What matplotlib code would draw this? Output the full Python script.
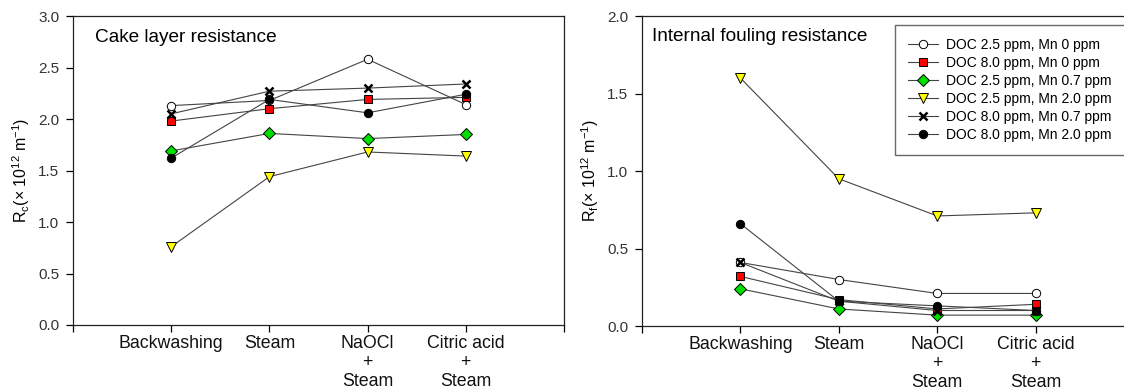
import matplotlib
matplotlib.use("Agg")
import matplotlib.pyplot as plt

plt.rcParams['font.family'] = ['Liberation Sans', 'DejaVu Sans']
plt.rcParams['mathtext.default'] = 'regular'

# data
categories = ["Backwashing", "Steam", "NaOCl\n+\nSteam", "Citric acid\n+\nSteam"]
series_labels = ["DOC 2.5 ppm, Mn 0 ppm", "DOC 8.0 ppm, Mn 0 ppm",
                 "DOC 2.5 ppm, Mn 0.7 ppm", "DOC 2.5 ppm, Mn 2.0 ppm",
                 "DOC 8.0 ppm, Mn 0.7 ppm", "DOC 8.0 ppm, Mn 2.0 ppm"]

cake_doc25_mn0 = [2.13, 2.18, 2.58, 2.14]
cake_doc80_mn0 = [1.98, 2.10, 2.19, 2.21]
cake_doc25_mn07 = [1.69, 1.86, 1.81, 1.85]
cake_doc25_mn20 = [0.76, 1.44, 1.68, 1.64]
cake_doc80_mn07 = [2.05, 2.27, 2.30, 2.34]
cake_doc80_mn20 = [1.62, 2.19, 2.06, 2.24]

int_doc25_mn0 = [0.41, 0.30, 0.21, 0.21]
int_doc80_mn0 = [0.32, 0.17, 0.11, 0.14]
int_doc25_mn07 = [0.24, 0.11, 0.07, 0.07]
int_doc25_mn20 = [1.60, 0.95, 0.71, 0.73]
int_doc80_mn07 = [0.41, 0.16, 0.10, 0.10]
int_doc80_mn20 = [0.66, 0.16, 0.13, 0.10]

cake = [cake_doc25_mn0, cake_doc80_mn0, cake_doc25_mn07,
        cake_doc25_mn20, cake_doc80_mn07, cake_doc80_mn20]
internal = [int_doc25_mn0, int_doc80_mn0, int_doc25_mn07,
            int_doc25_mn20, int_doc80_mn07, int_doc80_mn20]

# marker styles per series
styles = [
    dict(marker='o', mfc='white', ms=6),
    dict(marker='s', mfc='#ff0000', ms=6),
    dict(marker='D', mfc='#00e000', ms=6),
    dict(marker='v', mfc='#ffff00', ms=7),
    dict(marker='x', mfc='black', ms=6, mew=1.8),
    dict(marker='o', mfc='black', ms=6),
]

W, H = 1124, 390
fig = plt.figure(figsize=(W / 100, H / 100), dpi=100)
ax1 = fig.add_axes([73 / W, (H - 325) / H, 491 / W, 309 / H])
ax2 = fig.add_axes([642 / W, (H - 326) / H, 492 / W, 310 / H])

xpos = [1, 2, 3, 4]


def draw_panel(ax, data, ymax, title, ylabel, tx, ty):
    for vals, st, lab in zip(data, styles, series_labels):
        st = dict(st)
        mew = st.pop('mew', 0.7)
        ax.plot(xpos, vals, color='#444444', lw=0.8, mec='black', mew=mew,
                label=lab, **st)
    ax.set_xlim(0, 5)
    ax.set_ylim(0, ymax)
    ax.set_xticks([0, 1, 2, 3, 4, 5])
    ax.set_xticklabels([''] + categories + [''], fontsize=12.8,
                       linespacing=1.18, color='#111111')
    nt = int(round(ymax / 0.5)) + 1
    ax.set_yticks([i * 0.5 for i in range(nt)])
    ax.set_yticklabels(["%.1f" % (i * 0.5) for i in range(nt)],
                       fontsize=11, color='#333333')
    ax.tick_params(axis='both', direction='out', length=5, width=0.9, pad=2)
    ax.tick_params(axis='y', pad=5)
    for sp in ax.spines.values():
        sp.set_linewidth(0.9)
        sp.set_color('#222222')
    ax.set_ylabel(ylabel, fontsize=11.5)
    ax.yaxis.set_label_coords(-0.084, 0.5)
    ax.text(tx, ty, title, transform=ax.transAxes, fontsize=13.7,
            va='center', ha='left')


draw_panel(ax1, cake, 3.0, "Cake layer resistance",
           r"R$_{c}$(× 10$^{12}$ m$^{-1}$)", 0.045, 0.929)
draw_panel(ax2, internal, 2.0, "Internal fouling resistance",
           r"R$_{f}$(× 10$^{12}$ m$^{-1}$)", 0.02, 0.935)

leg = ax2.legend(loc='upper left', bbox_to_anchor=((895 - 642) / 492, (326 - 25) / 310),
                 fontsize=10, frameon=True, fancybox=False, labelspacing=0.3,
                 handlelength=2.2, handletextpad=0.6, borderpad=0.9,
                 borderaxespad=0)
leg.get_frame().set_edgecolor('#444444')
leg.get_frame().set_linewidth(1.0)

fig.savefig("out.png", dpi=100)
